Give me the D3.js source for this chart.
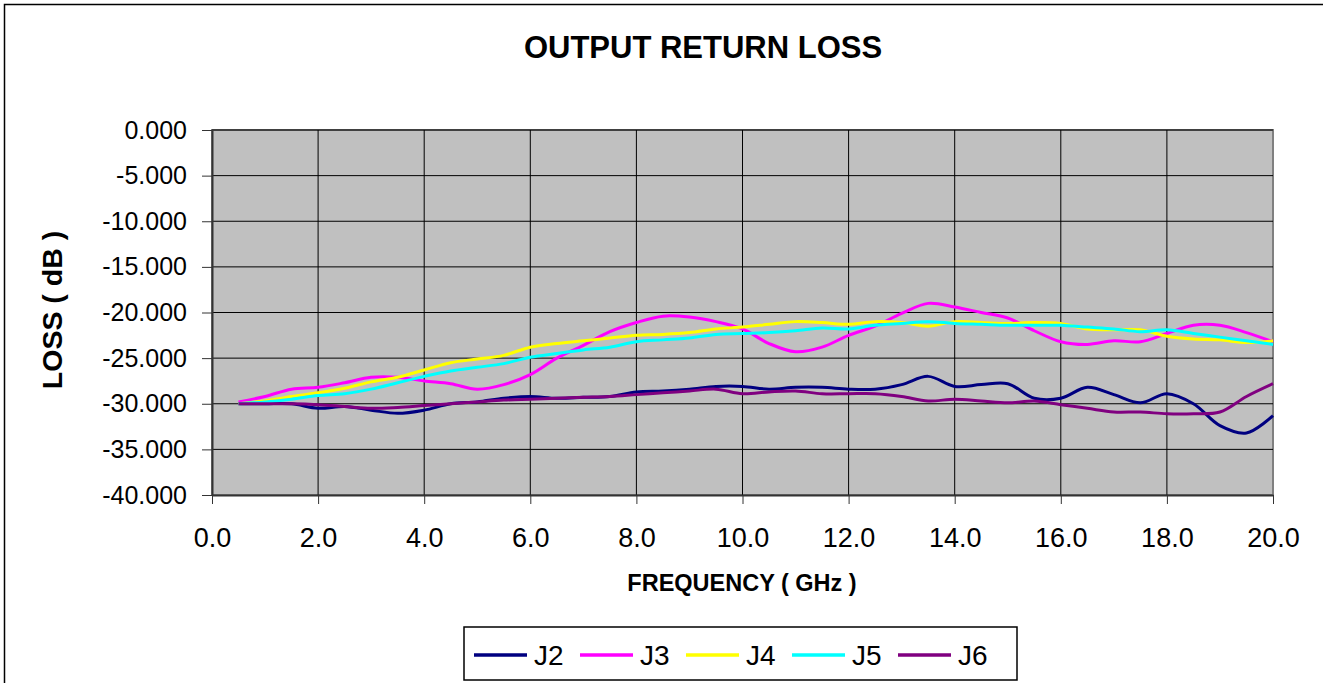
<!DOCTYPE html>
<html>
<head>
<meta charset="utf-8">
<script src="https://cdn.jsdelivr.net/npm/d3@7"></script>
<style>
  body { margin: 0; background: #fff; }
  svg { display: block; font-family: "Liberation Sans", Arial, sans-serif; }
</style>
</head>
<body>
<div id="chart"></div>
<script>
// frequency points (GHz)
const freqs = d3.range(0.5, 20.01, 0.5);

const seriesNames = ['J2', 'J3', 'J4', 'J5', 'J6'];
const seriesColors = ['#000080', '#ff00ff', '#ffff00', '#00ffff', '#800080'];

const j2 = [-30.0, -30.0, -30.0, -30.5, -30.3, -30.7, -31.05, -30.7, -30.0, -29.8,
            -29.4, -29.2, -29.4, -29.3, -29.2, -28.7, -28.6, -28.4, -28.1, -28.1,
            -28.4, -28.2, -28.2, -28.4, -28.4, -27.9, -27.0, -28.1, -27.9, -27.8,
            -29.4, -29.4, -28.2, -29.0, -29.9, -28.9, -30.0, -32.4, -33.2, -31.3];
const j3 = [-29.8, -29.2, -28.4, -28.2, -27.7, -27.1, -27.1, -27.5, -27.8, -28.4,
            -27.9, -26.8, -25.0, -23.6, -22.1, -21.1, -20.4, -20.5, -21.0, -21.8,
            -23.4, -24.3, -23.8, -22.5, -21.5, -20.1, -19.0, -19.4, -20.0, -20.6,
            -22.0, -23.2, -23.5, -23.1, -23.2, -22.3, -21.4, -21.4, -22.2, -23.2];
const j4 = [-30.0, -29.7, -29.2, -28.8, -28.3, -27.6, -27.1, -26.3, -25.5, -25.1,
            -24.7, -23.8, -23.4, -23.1, -22.8, -22.5, -22.4, -22.2, -21.8, -21.6,
            -21.3, -21.0, -21.1, -21.3, -21.0, -21.1, -21.5, -21.0, -21.1, -21.2,
            -21.1, -21.2, -21.8, -21.9, -21.9, -22.6, -22.9, -23.0, -23.3, -23.1];
const j5 = [-30.0, -29.8, -29.5, -29.1, -28.9, -28.4, -27.7, -27.0, -26.4, -26.0,
            -25.6, -24.9, -24.5, -24.1, -23.8, -23.2, -23.0, -22.8, -22.4, -22.3,
            -22.2, -22.0, -21.7, -21.8, -21.4, -21.2, -21.0, -21.2, -21.3, -21.4,
            -21.4, -21.4, -21.6, -21.8, -22.1, -21.9, -22.3, -22.7, -23.1, -23.5];
const j6 = [-30.0, -30.0, -30.0, -30.1, -30.3, -30.5, -30.4, -30.2, -30.0, -29.8,
            -29.6, -29.5, -29.4, -29.3, -29.2, -29.0, -28.8, -28.6, -28.4, -28.9,
            -28.7, -28.6, -28.9, -28.9, -28.9, -29.2, -29.7, -29.5, -29.7, -29.9,
            -29.7, -30.1, -30.5, -30.9, -30.9, -31.1, -31.1, -30.9, -29.2, -27.8];

const seriesValues = [j2, j3, j4, j5, j6];

const xTicks = d3.range(0, 20.01, 2);
const yTicks = d3.range(-40, 0.01, 5);

const width = 1323, height = 683;
const plot = { left: 212, top: 130, right: 1273, bottom: 495 };

const svg = d3.select('#chart').append('svg')
    .attr('width', width)
    .attr('height', height);

// outer chart frame
svg.append('rect')
    .attr('x', 4.5).attr('y', 4.5)
    .attr('width', width).attr('height', height)
    .attr('fill', '#fff')
    .attr('stroke', '#000')
    .attr('stroke-width', 1.5);

const x = d3.scaleLinear().domain([0, 20]).range([plot.left, plot.right]);
const y = d3.scaleLinear().domain([-40, 0]).range([plot.bottom, plot.top]);

// plot area
svg.append('rect')
    .attr('x', plot.left).attr('y', plot.top)
    .attr('width', plot.right - plot.left)
    .attr('height', plot.bottom - plot.top)
    .attr('fill', '#c0c0c0')
    .attr('stroke', '#808080')
    .attr('stroke-width', 2);

// gridlines
svg.append('g')
    .selectAll('line')
    .data(yTicks.filter(d => d > -40))
    .join('line')
    .attr('x1', plot.left).attr('x2', plot.right)
    .attr('y1', d => y(d)).attr('y2', d => y(d))
    .attr('stroke', '#000').attr('stroke-width', 1);

svg.append('g')
    .selectAll('line')
    .data(xTicks.filter(d => d > 0 && d < 20))
    .join('line')
    .attr('x1', d => x(d)).attr('x2', d => x(d))
    .attr('y1', plot.top).attr('y2', plot.bottom)
    .attr('stroke', '#000').attr('stroke-width', 1);

// axes
const yAxis = d3.axisLeft(y)
    .tickValues(yTicks)
    .tickFormat(d3.format('.3f'))
    .tickSizeInner(10).tickSizeOuter(0).tickPadding(15);

const gy = svg.append('g')
    .attr('transform', `translate(${plot.left},0)`)
    .call(yAxis);
gy.selectAll('text')
    .attr('font-size', '25px')
    .attr('fill', '#000')
    .text(d => d3.format('.3f')(d).replace('−', '-'));
gy.selectAll('.tick line').attr('stroke', '#333');
gy.select('.domain').attr('stroke', '#333').attr('stroke-width', 2);

const xAxis = d3.axisBottom(x)
    .tickValues(xTicks)
    .tickFormat(d3.format('.1f'))
    .tickSizeInner(9).tickSizeOuter(0);

const gx = svg.append('g')
    .attr('transform', `translate(0,${plot.bottom})`)
    .call(xAxis);
gx.selectAll('text')
    .attr('font-size', '27px')
    .attr('fill', '#000')
    .attr('dy', null)
    .attr('y', 52);
gx.selectAll('.tick line').attr('stroke', '#333');
gx.select('.domain').attr('stroke', '#333').attr('stroke-width', 2);

// series lines
const line = d3.line()
    .x((d, i) => x(freqs[i]))
    .y(d => y(d))
    .curve(d3.curveCatmullRom.alpha(0.5));

svg.append('g')
    .selectAll('path')
    .data(seriesValues)
    .join('path')
    .attr('d', d => line(d))
    .attr('fill', 'none')
    .attr('stroke', (d, i) => seriesColors[i])
    .attr('stroke-width', 3)
    .attr('stroke-linejoin', 'round');

// titles
svg.append('text')
    .attr('x', 703).attr('y', 58)
    .attr('text-anchor', 'middle')
    .attr('font-size', '31px')
    .attr('font-weight', 'bold')
    .text('OUTPUT RETURN LOSS');

svg.append('text')
    .attr('x', 742).attr('y', 591)
    .attr('text-anchor', 'middle')
    .attr('font-size', '23.5px')
    .attr('font-weight', 'bold')
    .text('FREQUENCY ( GHz )');

svg.append('text')
    .attr('transform', 'translate(62,310) rotate(-90)')
    .attr('text-anchor', 'middle')
    .attr('font-size', '28.5px')
    .attr('font-weight', 'bold')
    .text('LOSS ( dB )');

// legend
const legend = svg.append('g').attr('transform', 'translate(464,627)');
legend.append('rect')
    .attr('x', 0).attr('y', 0)
    .attr('width', 553).attr('height', 53)
    .attr('fill', '#fff')
    .attr('stroke', '#000')
    .attr('stroke-width', 1.5);

const item = legend.selectAll('g.item')
    .data(seriesNames)
    .join('g')
    .attr('class', 'item')
    .attr('transform', (d, i) => `translate(${10 + i * 106},28)`);

item.append('line')
    .attr('x1', 0).attr('x2', 53)
    .attr('y1', 0).attr('y2', 0)
    .attr('stroke', (d, i) => seriesColors[i])
    .attr('stroke-width', 3.5);

item.append('text')
    .attr('x', 60).attr('y', 10)
    .attr('font-size', '28px')
    .text(d => d);
</script>
</body>
</html>
